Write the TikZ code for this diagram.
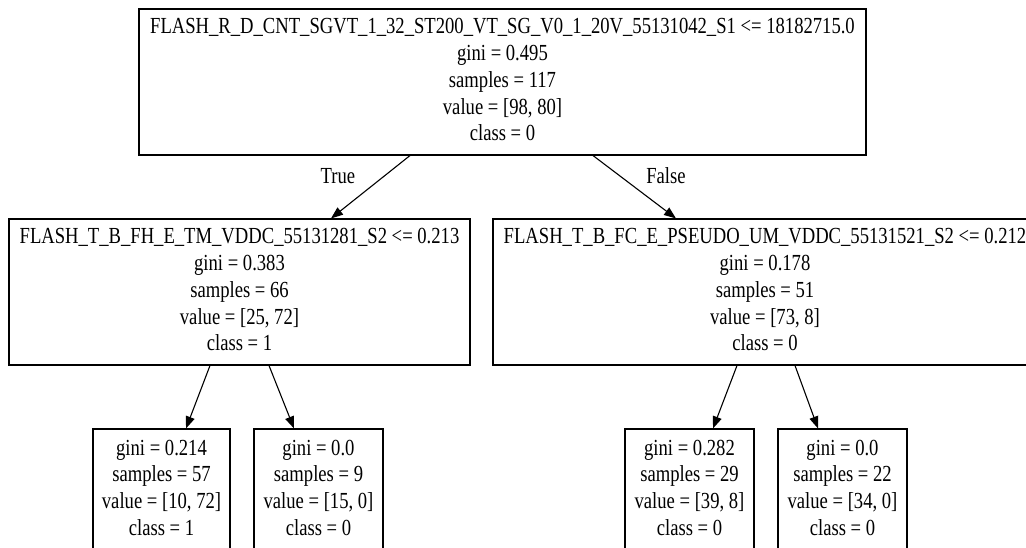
\documentclass[tikz,border=0pt]{standalone}
\usepackage{fontspec}
\setmainfont{Liberation Serif}
\usepackage{graphicx}
\usetikzlibrary{arrows.meta,calc}

% multi-line, slightly condensed label text
\newcommand{\nodelines}[1]{\scalebox{0.81}[1]{\begin{tabular}{@{}c@{}}#1\end{tabular}}}

\tikzset{
  treebox/.style={draw, rectangle, line width=1.1pt, inner sep=0pt,
    font=\fontsize{23}{26.7}\selectfont},
  edgelabel/.style={inner sep=0pt, font=\fontsize{23}{26.7}\selectfont},
  treeedge/.style={line width=1.1pt, -{Triangle[length=12pt,width=9pt]}}
}

\begin{document}
\begin{tikzpicture}[x=1pt,y=-1pt]
\clip (0,0) rectangle (1026,548);
\fill[white] (0,0) rectangle (1026,548);

% split nodes
\node[treebox, minimum width=727pt, minimum height=146pt] (root) at (502.5,82)
  {\nodelines{FLASH\_R\_D\_CNT\_SGVT\_1\_32\_ST200\_VT\_SG\_V0\_1\_20V\_55131042\_S1 <= 18182715.0\\
  gini = 0.495\\ samples = 117\\ value = [98, 80]\\ class = 0}};

\node[treebox, minimum width=461pt, minimum height=146pt] (left) at (239.5,292)
  {\nodelines{FLASH\_T\_B\_FH\_E\_TM\_VDDC\_55131281\_S2 <= 0.213\\
  gini = 0.383\\ samples = 66\\ value = [25, 72]\\ class = 1}};

\node[treebox, minimum width=544pt, minimum height=146pt] (right) at (765,292)
  {\nodelines{FLASH\_T\_B\_FC\_E\_PSEUDO\_UM\_VDDC\_55131521\_S2 <= 0.212\\
  gini = 0.178\\ samples = 51\\ value = [73, 8]\\ class = 0}};

% leaves
\node[treebox, minimum width=137pt, minimum height=122pt] (leafa) at (161.5,490)
  {\nodelines{gini = 0.214\\ samples = 57\\ value = [10, 72]\\ class = 1}};
\node[treebox, minimum width=129pt, minimum height=122pt] (leafb) at (318.5,490)
  {\nodelines{gini = 0.0\\ samples = 9\\ value = [15, 0]\\ class = 0}};
\node[treebox, minimum width=129pt, minimum height=122pt] (leafc) at (689.5,490)
  {\nodelines{gini = 0.282\\ samples = 29\\ value = [39, 8]\\ class = 0}};
\node[treebox, minimum width=129pt, minimum height=122pt] (leafd) at (842.5,490)
  {\nodelines{gini = 0.0\\ samples = 22\\ value = [34, 0]\\ class = 0}};

% edges
\draw[treeedge] ([xshift=-92.5pt]root.south) -- ([xshift=91.5pt]left.north);
\draw[treeedge] ([xshift=90.5pt]root.south) -- ([xshift=-89pt]right.north);
\draw[treeedge] ([xshift=-29.5pt]left.south) -- ([xshift=24.5pt]leafa.north);
\draw[treeedge] ([xshift=29.5pt]left.south) -- ([xshift=-24.5pt]leafb.north);
\draw[treeedge] ([xshift=-28pt]right.south) -- ([xshift=23.5pt]leafc.north);
\draw[treeedge] ([xshift=30pt]right.south) -- ([xshift=-24.5pt]leafd.north);

% branch labels
\node[edgelabel] (truelbl) at (338,176) {\scalebox{0.81}[1]{True}};
\node[edgelabel] (falselbl) at (666,176) {\scalebox{0.81}[1]{False}};
\end{tikzpicture}
\end{document}
